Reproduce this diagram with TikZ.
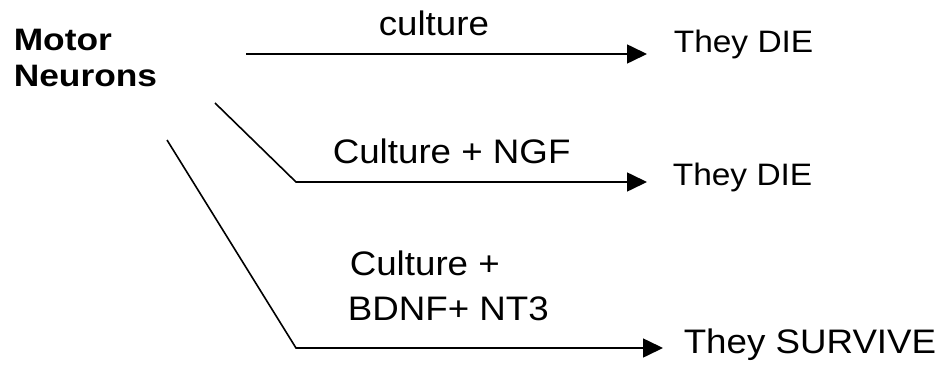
\documentclass[tikz,border=0pt]{standalone}
\usepackage{fontspec}
\setmainfont{Liberation Sans}
\newfontfamily\lblfont[FakeStretch=1.08]{Liberation Sans}
\newfontfamily\headfont[FakeStretch=1.14]{Liberation Sans}
\usetikzlibrary{arrows.meta}

\begin{document}
\begin{tikzpicture}[x=1pt,y=-1pt,line width=1.6pt,
    lbl/.style={anchor=base west,inner sep=0pt,font=\lblfont\fontsize{34}{40}\selectfont},
    head/.style={anchor=base west,inner sep=0pt,font=\headfont\bfseries\fontsize{31}{37}\selectfont},
    arr/.style={-{Triangle[length=20pt,width=19pt]}}]
    \useasboundingbox (0,0) rectangle (942,364);
    \node[head] (motor) at (13,50) {Motor};
    \node[head] (neurons) at (13,86) {Neurons};
    % top branch
    \coordinate (s1) at (246,54);
    \coordinate (e1) at (647,54);
    \draw[arr] (s1) -- (e1);
    \node[lbl] (cult) at (378,35) {culture};
    \node[lbl,font=\lblfont\fontsize{31}{37}\selectfont] (die1) at (673,52) {They DIE};
    % middle branch
    \coordinate (s2) at (215,103);
    \coordinate (k2) at (296,182);
    \coordinate (e2) at (647,182);
    \draw[arr] (s2) -- (k2) -- (e2);
    \node[lbl] (ngf) at (332,163) {Culture + NGF};
    \node[lbl,font=\lblfont\fontsize{31}{37}\selectfont] (die2) at (672,185) {They DIE};
    % bottom branch
    \coordinate (s3) at (167,140);
    \coordinate (k3) at (296,348);
    \coordinate (e3) at (663,348);
    \draw[arr] (s3) -- (k3) -- (e3);
    \node[lbl] (cult3) at (349,275) {Culture +};
    \node[lbl] (bdnf) at (347,320) {BDNF+ NT3};
    \node[lbl] (surv) at (683,353) {They SURVIVE};
\end{tikzpicture}
\end{document}
